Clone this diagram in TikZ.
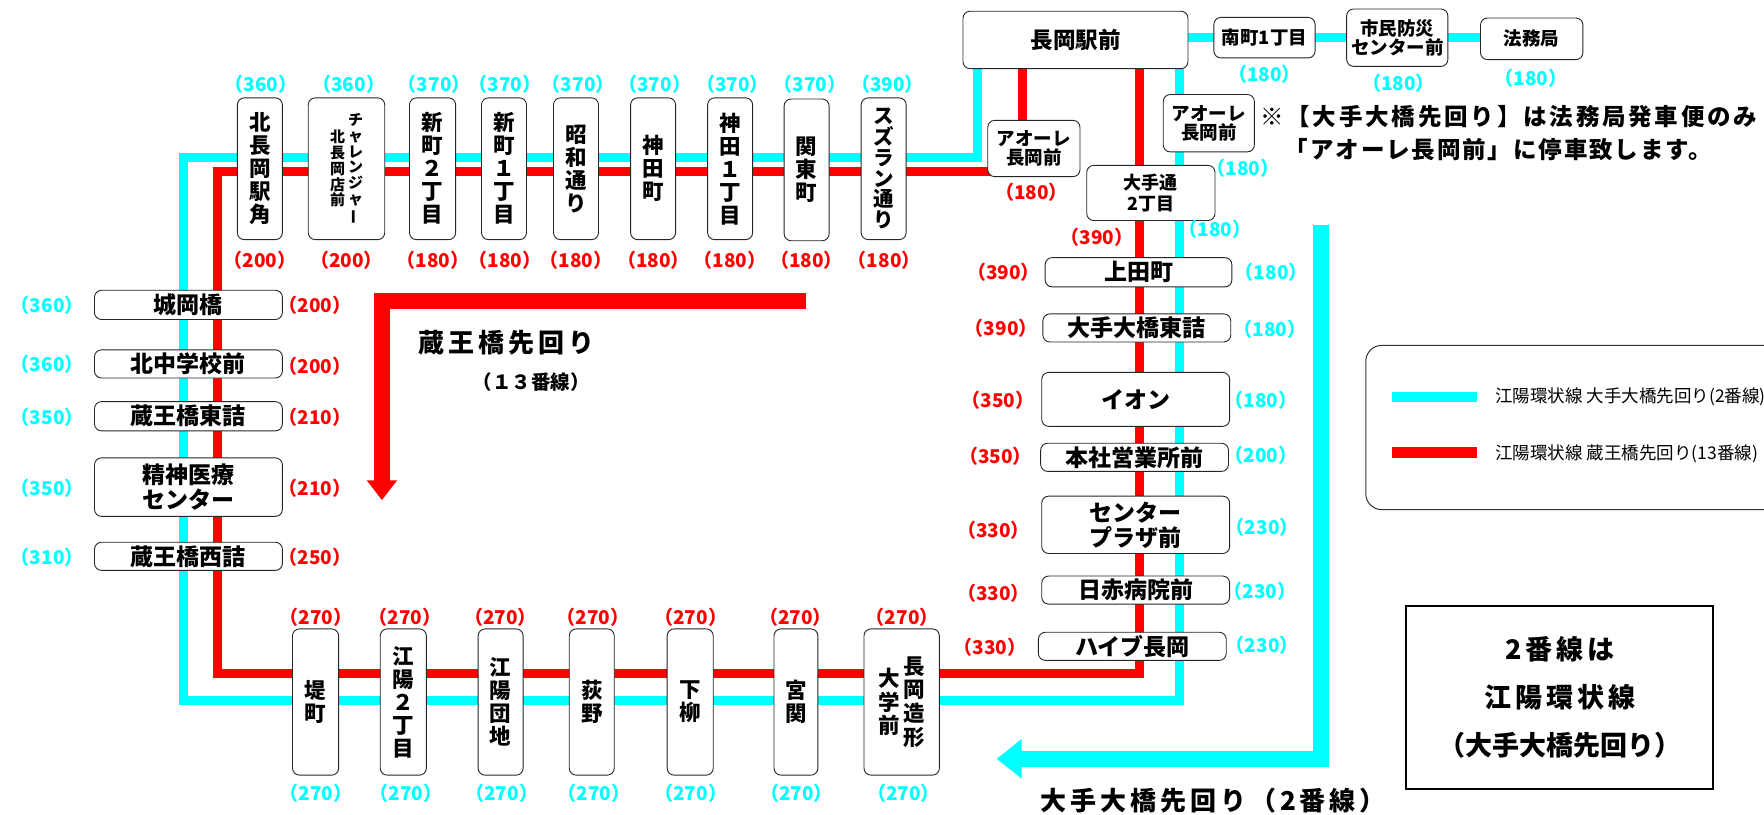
\documentclass[tikz,border=0pt]{standalone}
\usepackage{fontspec}
\setmainfont{Noto Sans CJK JP}
\usepackage{graphicx}
\usetikzlibrary{calc}
\definecolor{cyanc}{HTML}{00FFFF}
\definecolor{redc}{HTML}{FF0000}
\newcommand{\vcol}[1]{\ensuremath{\vcenter{\halign{\hfil##\hfil\cr#1\crcr}}}}
\newcommand{\vbar}{\rotatebox[origin=c]{90}{ー}}
\pgfdeclarelayer{bg}
\pgfsetlayers{bg,main}
\begin{document}
\begin{tikzpicture}[x=1.125pt,y=-1.125pt,
  stopbox/.style={draw=black!85, line width=0.9pt, fill=white, rounded corners=7pt, inner sep=0pt},
  wh/.style 2 args={minimum width={#1*1.125pt}, minimum height={#2*1.125pt}},
  vlab/.style={font=\bfseries\fontsize{21.5}{23}\selectfont},
  hlab/.style={font=\bfseries\fontsize{23}{25}\selectfont},
  slab/.style={font=\bfseries\fontsize{18.5}{19.5}\selectfont},
  txt/.style={inner sep=0pt},
  cp/.style={inner sep=0pt, text=cyanc, font=\bfseries\fontsize{19}{19}\selectfont},
  rp/.style={inner sep=0pt, text=redc, font=\bfseries\fontsize{19}{19}\selectfont},
  cline/.style={draw=cyanc, line width=9pt, line join=miter},
  rline/.style={draw=redc, line width=9pt, line join=miter},
  title/.style={inner sep=0pt, anchor=west, font=\bfseries\fontsize{26}{26}\selectfont\addfontfeature{LetterSpace=15}}
]
\useasboundingbox (0,0) rectangle (1568,724);

% ---------- top row ----------
\node[stopbox,vlab,wh={40}{126}] (kitaeki) at (231,150) {\vcol{北\cr 長\cr 岡\cr 駅\cr 角}};
\node[stopbox,wh={68}{126},font=\bfseries\fontsize{15}{15.75}\selectfont] (challenger) at (308,150)
  {\vcol{北\cr 長\cr 岡\cr 店\cr 前}\hspace{3pt}\vcol{チ\cr ャ\cr レ\cr ン\cr ジ\cr ャ\cr \vbar}};
\node[stopbox,vlab,wh={41}{126}] (shin2) at (384.5,150) {\vcol{新\cr 町\cr ２\cr 丁\cr 目}};
\node[stopbox,vlab,wh={40}{126}] (shin1) at (448,150) {\vcol{新\cr 町\cr １\cr 丁\cr 目}};
\node[stopbox,vlab,wh={40}{126}] (showa) at (512,150) {\vcol{昭\cr 和\cr 通\cr り}};
\node[stopbox,vlab,wh={40}{126}] (kandacho) at (580.5,150) {\vcol{神\cr 田\cr 町}};
\node[stopbox,vlab,wh={40}{126}] (kanda1) at (649,150) {\vcol{神\cr 田\cr １\cr 丁\cr 目}};
\node[stopbox,vlab,wh={40}{126}] (kanto) at (717,151) {\vcol{関\cr 東\cr 町}};
\node[stopbox,wh={40}{126},font=\bfseries\fontsize{20.5}{20.7}\selectfont] (suzuran) at (785.5,150) {\vcol{ス\cr ズ\cr ラ\cr ン\cr 通\cr り}};

% ---------- station area ----------
\node[stopbox,wh={200}{51},font=\bfseries\fontsize{22.5}{24}\selectfont] (ekimae) at (956,35.5) {長岡駅前};
\node[stopbox,slab,wh={90}{36}] (minami) at (1124,33.5) {南町1丁目};
\node[stopbox,slab,wh={90}{51},align=center] (bosai) at (1242,33.5) {市民防災\\センター前};
\node[stopbox,slab,wh={91}{37}] (homu) at (1361.5,34.5) {法務局};
\node[stopbox,slab,wh={82}{50},align=center] (aoreR) at (919,132) {アオーレ\\長岡前};
\node[stopbox,slab,wh={81}{51},align=center] (aoreC) at (1074.5,109.5) {アオーレ\\長岡前};
\node[stopbox,wh={114}{49},align=center,font=\bfseries\fontsize{18}{20.5}\selectfont] (ote2) at (1023,171.5) {大手通\\2丁目};

% ---------- right column ----------
\node[stopbox,hlab,wh={166}{26}] (ueda) at (1012,242) {上田町};
\node[stopbox,hlab,wh={167}{25}] (otebashi) at (1010.5,291.5) {大手大橋東詰};
\node[stopbox,hlab,wh={167}{48}] (aeon) at (1009.5,355) {イオン};
\node[stopbox,hlab,wh={167}{25}] (honsha) at (1008.5,406.5) {本社営業所前};
\node[stopbox,hlab,wh={167}{51},align=center] (plaza) at (1009.5,466.5) {センター\\プラザ前};
\node[stopbox,hlab,wh={167}{25}] (nisseki) at (1009.5,524.5) {日赤病院前};
\node[stopbox,hlab,wh={167}{25}] (haibu) at (1006.5,574.5) {ハイブ長岡};

% ---------- left column ----------
\node[stopbox,hlab,wh={167}{26}] (jooka) at (167.5,271) {城岡橋};
\node[stopbox,hlab,wh={167}{25}] (kitachu) at (167.5,323.5) {北中学校前};
\node[stopbox,hlab,wh={167}{26}] (zaohigashi) at (167.5,370) {蔵王橋東詰};
\node[stopbox,hlab,wh={167}{52},align=center] (seishin) at (167.5,433) {精神医療\\センター};
\node[stopbox,hlab,wh={167}{25}] (zaonishi) at (167.5,494.5) {蔵王橋西詰};

% ---------- bottom row ----------
\node[stopbox,vlab,wh={41}{130}] (tsutsumi) at (280.5,624) {\vcol{堤\cr 町}};
\node[stopbox,vlab,wh={41}{130}] (koyo2) at (358.5,624) {\vcol{江\cr 陽\cr ２\cr 丁\cr 目}};
\node[stopbox,vlab,wh={40}{130}] (koyodan) at (445,624) {\vcol{江\cr 陽\cr 団\cr 地}};
\node[stopbox,vlab,wh={40}{130}] (ogino) at (526,624) {\vcol{荻\cr 野}};
\node[stopbox,vlab,wh={41}{130}] (shimoyana) at (613.5,624) {\vcol{下\cr 柳}};
\node[stopbox,vlab,wh={39}{130}] (miyaseki) at (707.5,624) {\vcol{宮\cr 関}};
\node[stopbox,wh={67}{130},font=\bfseries\fontsize{21.5}{23.6}\selectfont] (zokei) at (801.5,624)
  {\vcol{大\cr 学\cr 前}\hspace{3pt}\vcol{長\cr 岡\cr 造\cr 形}};

% ---------- route lines ----------
\begin{pgfonlayer}{bg}
\fill[white] (0,0) rectangle (1568,724);
\coordinate (cyTop) at (0,33);
\coordinate (cyTR) at (869,140);
\coordinate (cyTL) at (163,140);
\coordinate (cyBL) at (163,623);
\coordinate (cyBR) at (1048,623);
\draw[cline] (ekimae.center -| cyTR) -- (cyTR) -- (cyTL) -- (cyBL) -- (cyBR) -- (ekimae.center -| cyBR);
\draw[cline] (ekimae.center |- cyTop) -- (homu.center |- cyTop);
\coordinate (rdA) at (909,0);
\coordinate (rdTL) at (193,152.5);
\coordinate (rdBL) at (193,599);
\coordinate (rdBR) at (1013,599);
\draw[rline] (ekimae.center -| rdA) -- (aoreR.center -| rdA);
\draw[rline] (aoreR.center |- rdTL) -- (rdTL) -- (rdBL) -- (rdBR) -- (ekimae.center -| rdBR);
\end{pgfonlayer}

% ---------- big direction arrows ----------
\coordinate (raS) at (716,267.5);
\coordinate (raC) at (339.5,267.5);
\coordinate (raE) at (339.5,428);
\draw[redc, line width=15.75pt, line join=miter] (raS) -- (raC) -- (raE);
\fill[redc] (326,427) -- (353,427) -- (339.5,444.5) -- cycle;
\coordinate (caS) at (1174,200);
\coordinate (caC) at (1174,674.5);
\coordinate (caE) at (907,674.5);
\draw[cyanc, line width=15.75pt, line join=miter] (caS) -- (caC) -- (caE);
\fill[cyanc] (908,657) -- (908,692) -- (886,674.5) -- cycle;

\node[title] (zaoTitle) at (372,305) {蔵王橋先回り};
\node[txt,anchor=west,font=\bfseries\fontsize{19.5}{19.5}\selectfont] (zaoSub) at (420,339.5) {（１３番線）};
\node[title] (oteTitle) at (925,712) {大手大橋先回り（2番線）};

% ---------- notice ----------
\node[txt,anchor=west,font=\bfseries\fontsize{23.5}{23.5}\selectfont\addfontfeature{LetterSpace=12}] (note1) at (1120,104) {※【大手大橋先回り】は法務局発車便のみ};
\node[txt,anchor=west,font=\bfseries\fontsize{23.5}{23.5}\selectfont\addfontfeature{LetterSpace=8}] (note2) at (1142,133) {「アオーレ長岡前」に停車致します。};

% ---------- legend ----------
\draw[black!80, line width=1pt, rounded corners=16pt, fill=white] (1214,307) rectangle (1660,453);
\draw[cyanc, line width=10pt] (1237,352.5) -- (1313,352.5);
\draw[redc, line width=11pt] (1237,402.5) -- (1313,402.5);
\node[txt,anchor=west,font=\fontsize{17.5}{17.5}\selectfont] (leg1) at (1329,352.5) {江陽環状線 大手大橋先回り(2番線)};
\node[txt,anchor=west,font=\fontsize{17.5}{17.5}\selectfont] (leg2) at (1329,403) {江陽環状線 蔵王橋先回り(13番線)};

\node[draw=black, line width=2pt, minimum width={273*1.125pt}, minimum height={162*1.125pt}, inner sep=0pt, align=center,
  font=\bfseries\fontsize{27}{48}\selectfont] (box2) at (1386.5,620)
  {{\addfontfeature{LetterSpace=15}2番線は}\\{\addfontfeature{LetterSpace=15}江陽環状線}\\（大手大橋先回り）};

% ---------- fares: top row ----------
\node[cp] (c1) at (232,75) {（360）};
\node[cp] (c2) at (310,75) {（360）};
\node[cp] (c3) at (386,75) {（370）};
\node[cp] (c4) at (449,75) {（370）};
\node[cp] (c5) at (514,75) {（370）};
\node[cp] (c6) at (582,75) {（370）};
\node[cp] (c7) at (651,75) {（370）};
\node[cp] (c8) at (720,75) {（370）};
\node[cp] (c9) at (789,75) {（390）};
\node[rp] (r1) at (231,231) {（200）};
\node[rp] (r2) at (308,231) {（200）};
\node[rp] (r3) at (385,231) {（180）};
\node[rp] (r4) at (449,231) {（180）};
\node[rp] (r5) at (512,231) {（180）};
\node[rp] (r6) at (581,231) {（180）};
\node[rp] (r7) at (649,231) {（180）};
\node[rp] (r8) at (717,231) {（180）};
\node[rp] (r9) at (786,231) {（180）};

% ---------- fares: station area ----------
\node[cp] (c10) at (1124,66) {（180）};
\node[cp] (c11) at (1243,74) {（180）};
\node[cp] (c12) at (1361,70) {（180）};
\node[cp] (c13) at (1105,150) {（180）};
\node[cp] (c14) at (1080,204) {（180）};
\node[rp] (r10) at (917,171) {（180）};
\node[rp] (r11) at (975,211) {（390）};

% ---------- fares: right column ----------
\node[rp] (r12) at (892,242) {（390）};
\node[rp] (r13) at (890,292) {（390）};
\node[rp] (r14) at (887,356) {（350）};
\node[rp] (r15) at (885,406) {（350）};
\node[rp] (r16) at (883,471) {（330）};
\node[rp] (r17) at (883,527) {（330）};
\node[rp] (r18) at (880,575) {（330）};
\node[cp] (c15) at (1130,242) {（180）};
\node[cp] (c16) at (1129,293) {（180）};
\node[cp] (c17) at (1121,356) {（180）};
\node[cp] (c18) at (1121,405) {（200）};
\node[cp] (c19) at (1122,469) {（230）};
\node[cp] (c20) at (1120,526) {（230）};
\node[cp] (c21) at (1122,574) {（230）};

% ---------- fares: left column ----------
\node[cp] (c22) at (42,271) {（360）};
\node[cp] (c23) at (42,324) {（360）};
\node[cp] (c24) at (42,371) {（350）};
\node[cp] (c25) at (42,434) {（350）};
\node[cp] (c26) at (42,495) {（310）};
\node[rp] (r19) at (280,271) {（200）};
\node[rp] (r20) at (280,326) {（200）};
\node[rp] (r21) at (280,371) {（210）};
\node[rp] (r22) at (280,434) {（210）};
\node[rp] (r23) at (280,495) {（250）};

% ---------- fares: bottom row ----------
\node[rp] (r24) at (281,549) {（270）};
\node[rp] (r25) at (360,549) {（270）};
\node[rp] (r26) at (445,549) {（270）};
\node[rp] (r27) at (527,549) {（270）};
\node[rp] (r28) at (614,549) {（270）};
\node[rp] (r29) at (707,549) {（270）};
\node[rp] (r30) at (802,549) {（270）};
\node[cp] (c27) at (281,705) {（270）};
\node[cp] (c28) at (361,705) {（270）};
\node[cp] (c29) at (446,705) {（270）};
\node[cp] (c30) at (528,705) {（270）};
\node[cp] (c31) at (614,705) {（270）};
\node[cp] (c32) at (708,705) {（270）};
\node[cp] (c33) at (803,705) {（270）};
\end{tikzpicture}
\end{document}
